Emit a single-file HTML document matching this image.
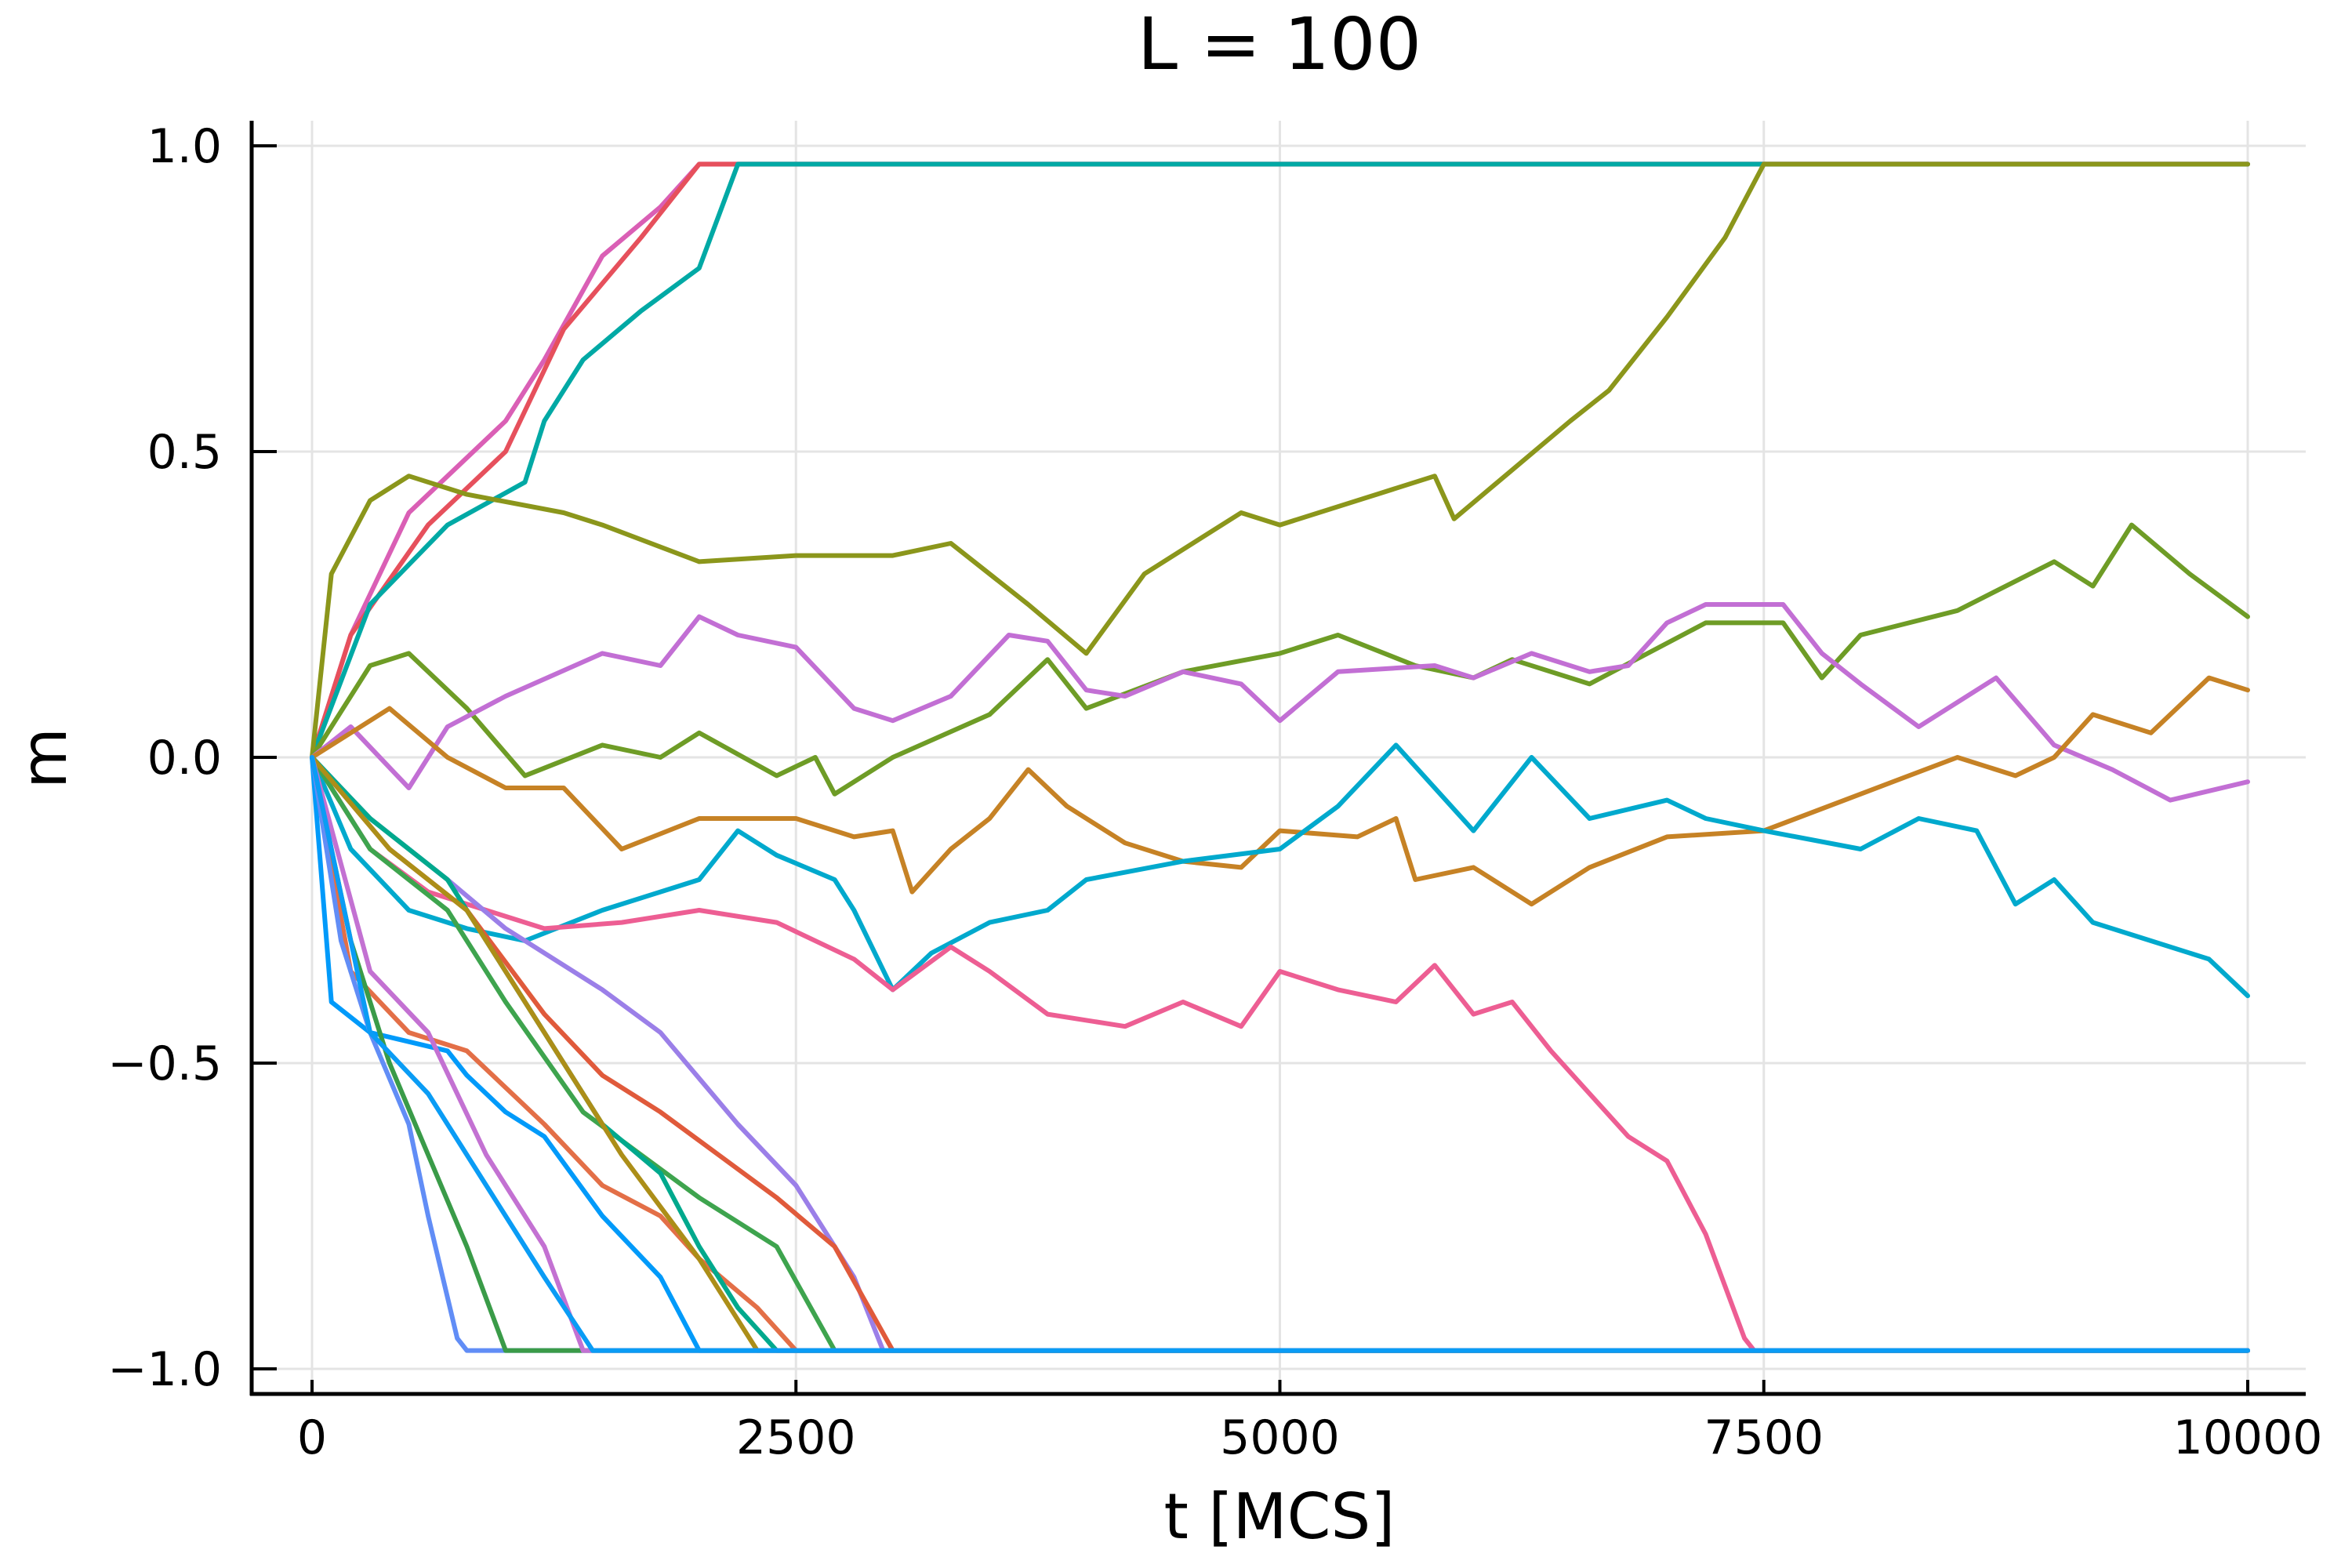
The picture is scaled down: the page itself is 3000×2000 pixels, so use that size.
<!DOCTYPE html>
<html><head><meta charset="utf-8"><style>
html,body{margin:0;padding:0;background:#fff}
svg{display:block}
text{font-family:"DejaVu Sans","Liberation Sans",sans-serif;fill:#000}
</style></head><body>
<svg id="chart" width="3000" height="2000" viewBox="0 0 3000 2000" xmlns="http://www.w3.org/2000/svg">
<text x="1632" y="88" font-size="92" text-anchor="middle">L = 100</text>
<g id="grid"></g>
<g id="series"></g>
<g id="axes"></g>
<text x="1632" y="1962" font-size="80" text-anchor="middle">t [MCS]</text>
<text x="0" y="0" font-size="80" text-anchor="middle" transform="translate(84,967) rotate(-90)">m</text>
</svg>
<script>
const xTicks=[0,2500,5000,7500,10000];
const xTickLabels=["0","2500","5000","7500","10000"];
const yTicks=[1.0,0.5,0.0,-0.5,-1.0];
const yTickLabels=["1.0","0.5","0.0","\u22120.5","\u22121.0"];
const seriesColors=["#DA5FB5","#E6505C","#00A9A5","#8B961B","#6E9C26","#C26FD4","#C68225","#00A9CD","#ED5E93","#9B7FE8","#E36F47","#E05A3B","#3EA44E","#00A98D","#AC8E18","#009AFA","#618DF6","#3A9B48","#C371D2","#0A9CF5"];
const s0t=[0,200,500,1000,1200,1500,1800,2000,10000], s0m=[0,0.2,0.4,0.55,0.65,0.82,0.9,0.97,0.97];
const s1t=[0,200,600,1000,1300,1700,2000,10000], s1m=[0,0.2,0.38,0.5,0.7,0.85,0.97,0.97];
const s2t=[0,300,700,1100,1200,1400,1700,2000,2200,10000], s2m=[0,0.25,0.38,0.45,0.55,0.65,0.73,0.8,0.97,0.97];
const s3t=[0,100,300,500,800,1300,1500,2000,2500,3000,3300,3700,4000,4300,4800,5000,5500,5800,5900,6200,6500,6700,7000,7300,7500,10000];
const s3m=[0,0.3,0.42,0.46,0.43,0.4,0.38,0.32,0.33,0.33,0.35,0.25,0.17,0.3,0.4,0.38,0.43,0.46,0.39,0.47,0.55,0.6,0.72,0.85,0.97,0.97];
const s4t=[0,300,500,800,1100,1500,1800,2000,2400,2600,2700,3000,3500,3800,4000,4500,5000,5300,5700,6000,6200,6600,6900,7200,7600,7800,8000,8500,9000,9200,9400,9700,10000];
const s4m=[0,0.15,0.17,0.08,-0.03,0.02,0,0.04,-0.03,0,-0.06,0,0.07,0.16,0.08,0.14,0.17,0.2,0.15,0.13,0.16,0.12,0.17,0.22,0.22,0.13,0.2,0.24,0.32,0.28,0.38,0.3,0.23];
const s5t=[0,200,500,700,1000,1500,1800,2000,2200,2500,2800,3000,3300,3600,3800,4000,4200,4500,4800,5000,5300,5800,6000,6300,6600,6800,7000,7200,7600,7800,8000,8300,8700,9000,9300,9600,10000];
const s5m=[0,0.05,-0.05,0.05,0.1,0.17,0.15,0.23,0.2,0.18,0.08,0.06,0.1,0.2,0.19,0.11,0.1,0.14,0.12,0.06,0.14,0.15,0.13,0.17,0.14,0.15,0.22,0.25,0.25,0.17,0.12,0.05,0.13,0.02,-0.02,-0.07,-0.04];
const s6t=[0,400,700,1000,1300,1600,2000,2500,2800,3000,3100,3300,3500,3700,3900,4200,4500,4800,5000,5400,5600,5700,6000,6300,6600,7000,7500,8000,8500,8800,9000,9200,9500,9800,10000];
const s6m=[0,0.08,0,-0.05,-0.05,-0.15,-0.1,-0.1,-0.13,-0.12,-0.22,-0.15,-0.1,-0.02,-0.08,-0.14,-0.17,-0.18,-0.12,-0.13,-0.1,-0.2,-0.18,-0.24,-0.18,-0.13,-0.12,-0.06,0,-0.03,0,0.07,0.04,0.13,0.11];
const s7t=[0,200,500,800,1100,1500,1800,2000,2200,2400,2700,2800,3000,3200,3500,3800,4000,4500,5000,5300,5600,5800,6000,6300,6600,7000,7200,7500,8000,8300,8600,8800,9000,9200,9500,9800,10000];
const s7m=[0,-0.15,-0.25,-0.28,-0.3,-0.25,-0.22,-0.2,-0.12,-0.16,-0.2,-0.25,-0.38,-0.32,-0.27,-0.25,-0.2,-0.17,-0.15,-0.08,0.02,-0.05,-0.12,0,-0.1,-0.07,-0.1,-0.12,-0.15,-0.1,-0.12,-0.24,-0.2,-0.27,-0.3,-0.33,-0.39];
const s8t=[0,300,600,900,1200,1600,2000,2400,2800,3000,3300,3500,3800,4200,4500,4800,5000,5300,5600,5800,6000,6200,6400,6600,6800,7000,7200,7400,7450,10000];
const s8m=[0,-0.15,-0.22,-0.25,-0.28,-0.27,-0.25,-0.27,-0.33,-0.38,-0.31,-0.35,-0.42,-0.44,-0.4,-0.44,-0.35,-0.38,-0.4,-0.34,-0.42,-0.4,-0.48,-0.55,-0.62,-0.66,-0.78,-0.95,-0.97,-0.97];
const s9t=[0,300,700,1000,1500,1800,2200,2500,2800,2950,10000], s9m=[0,-0.1,-0.2,-0.28,-0.38,-0.45,-0.6,-0.7,-0.85,-0.97,-0.97];
const s10t=[0,200,500,800,1200,1500,1800,2000,2300,2500,10000], s10m=[0,-0.35,-0.45,-0.48,-0.6,-0.7,-0.75,-0.82,-0.9,-0.97,-0.97];
const s11t=[0,400,800,1200,1500,1800,2100,2400,2700,3000,10000], s11m=[0,-0.15,-0.25,-0.42,-0.52,-0.58,-0.65,-0.72,-0.8,-0.97,-0.97];
const s12t=[0,300,700,1000,1400,1700,2000,2400,2700,10000], s12m=[0,-0.15,-0.25,-0.4,-0.58,-0.65,-0.72,-0.8,-0.97,-0.97];
const s13t=[0,300,700,1200,1500,1800,2000,2200,2400,10000], s13m=[0,-0.1,-0.2,-0.45,-0.6,-0.68,-0.8,-0.9,-0.97,-0.97];
const s14t=[0,400,800,1200,1600,2000,2300,10000], s14m=[0,-0.15,-0.25,-0.45,-0.65,-0.82,-0.97,-0.97];
const s15t=[0,100,300,700,800,1000,1200,1500,1800,2000,10000], s15m=[0,-0.4,-0.45,-0.48,-0.52,-0.58,-0.62,-0.75,-0.85,-0.97,-0.97];
const s16t=[0,150,300,500,600,750,800,10000], s16m=[0,-0.3,-0.45,-0.6,-0.75,-0.95,-0.97,-0.97];
const s17t=[0,200,400,600,800,1000,10000], s17m=[0,-0.3,-0.5,-0.65,-0.8,-0.97,-0.97];
const s18t=[0,300,600,900,1200,1400,10000], s18m=[0,-0.35,-0.45,-0.65,-0.8,-0.97,-0.97];
const s19t=[0,300,600,900,1200,1450,10000], s19m=[0,-0.45,-0.55,-0.7,-0.85,-0.97,-0.97];
const allT=[s0t,s1t,s2t,s3t,s4t,s5t,s6t,s7t,s8t,s9t,s10t,s11t,s12t,s13t,s14t,s15t,s16t,s17t,s18t,s19t];
const allM=[s0m,s1m,s2m,s3m,s4m,s5m,s6m,s7m,s8m,s9m,s10m,s11m,s12m,s13m,s14m,s15m,s16m,s17m,s18m,s19m];

const NS="http://www.w3.org/2000/svg";
const X0=398,X1=2867,Y1=186,Ym1=1746,L=321,R=2941,T=154,B=1778;
function sx(t){return X0+(t-0)/(10000-0)*(X1-X0);}
function sy(m){return Ym1+(m-(-1))/(1-(-1))*(Y1-Ym1);}
function mk(tag,attrs,parent){const e=document.createElementNS(NS,tag);for(const k in attrs)e.setAttribute(k,attrs[k]);parent.appendChild(e);return e;}
const grid=document.getElementById('grid'),axes=document.getElementById('axes'),ser=document.getElementById('series');
xTicks.forEach((v,i)=>{
  const g=mk('line',{x1:sx(v),x2:sx(v),y1:T,y2:B,stroke:'#e4e4e4','stroke-width':3},grid);
  
  
  const tk=mk('line',{x1:sx(v),x2:sx(v),y1:B,y2:B-18,stroke:'#000','stroke-width':4},axes);
  
  
  const lb=mk('text',{x:sx(v),y:1854,'font-size':60,'text-anchor':'middle'},axes);
  lb.textContent=xTickLabels[i];
  
  
});
yTicks.forEach((v,i)=>{
  const g=mk('line',{x1:L,x2:R,y1:sy(v),y2:sy(v),stroke:'#e4e4e4','stroke-width':3},grid);
  
  
  const tk=mk('line',{x1:L,x2:L+32,y1:sy(v),y2:sy(v),stroke:'#000','stroke-width':4},axes);
  
  
  const lb=mk('text',{x:283,y:sy(v)+21,'font-size':60,'text-anchor':'end'},axes);
  lb.textContent=yTickLabels[i];
  
  
});
const ax1=mk('line',{x1:L,x2:L,y1:T,y2:B+2,stroke:'#000','stroke-width':5},axes);


const ax2=mk('line',{x1:L-2,x2:R,y1:B,y2:B,stroke:'#000','stroke-width':5},axes);


allT.forEach((ts,i)=>{
  const ms=allM[i];
  const pts=ts.map((t,j)=>sx(t).toFixed(1)+','+sy(ms[j]).toFixed(1)).join(' ');
  const p=mk('polyline',{points:pts,fill:'none',stroke:seriesColors[i],'stroke-width':6,'stroke-linejoin':'round','stroke-linecap':'round'},ser);
  
  
});
</script>
</body></html>
